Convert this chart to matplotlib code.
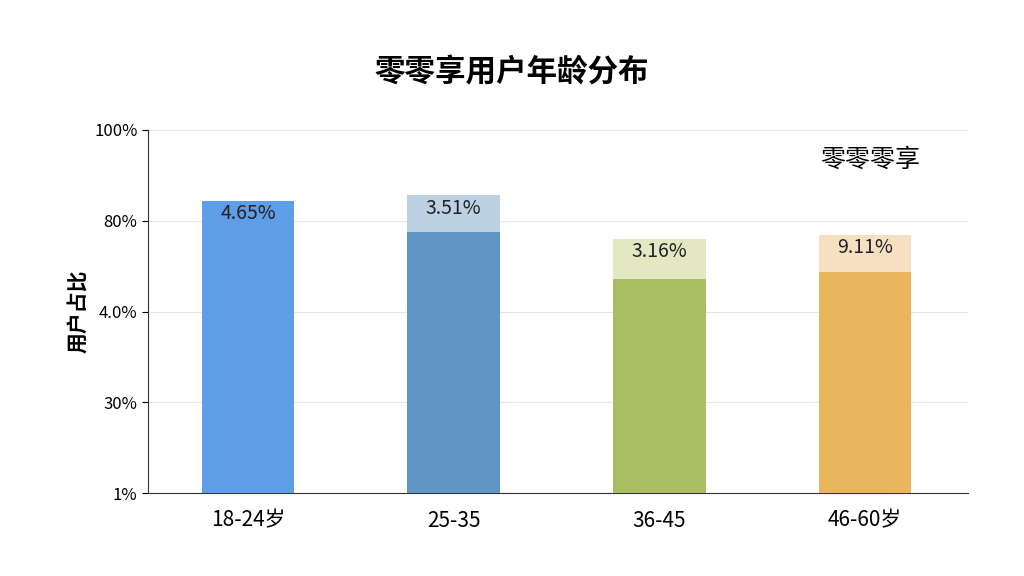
import matplotlib.pyplot as plt

plt.rcParams['font.family'] = ['Noto Sans CJK SC', 'DejaVu Sans']

categories = ['18-24岁', '25-35', '36-45', '46-60岁']
main_values = [80.5, 72, 59, 61]
cap_values = [80.5, 82, 70, 71]
bar_labels = ['4.65%', '3.51%', '3.16%', '9.11%']
main_colors = ['#5f9de6', '#6195c5', '#a9be62', '#e9b65e']
cap_colors = ['#5f9de6', '#bcd2e4', '#e3e8c2', '#f7dfc2']
tick_pos = [0, 25, 50, 75, 100]
tick_labels = ['1%', '30%', '4.0%', '80%', '100%']

fig = plt.figure(figsize=(10.24, 5.76), dpi=100)
ax = fig.add_axes([148/1024, 1-493/576, 820/1024, 363/576])
x = range(len(categories))
ax.bar(x, cap_values, width=0.45, color=cap_colors, zorder=2)
ax.bar(x, main_values, width=0.45, color=main_colors, zorder=3)
for i, lab in enumerate(bar_labels):
    ax.text(i, cap_values[i] - 3.5, lab, ha='center', va='center', fontsize=14, color='#222222', zorder=4)

ax.set_xlim(-0.486, 3.5)
ax.set_ylim(0, 100)
ax.set_yticks(tick_pos)
ax.set_yticklabels(tick_labels, fontsize=12)
ax.set_xticks(list(x))
ax.set_xticklabels(categories, fontsize=15)
ax.tick_params(axis='x', length=0, pad=12)
ax.tick_params(axis='y', length=4)
ax.grid(axis='y', color='#e6e6e6', linewidth=0.8, zorder=0)
for s in ['top', 'right']:
    ax.spines[s].set_visible(False)
ax.spines['left'].set_color('#333333')
ax.spines['bottom'].set_color('#333333')
ax.set_ylabel('用户占比', fontsize=15, fontweight='bold')

fig.text(0.5, 1-72/576, '零零享用户年龄分布', ha='center', va='center', fontsize=22, fontweight='bold')
fig.text(870/1024, 1-160/576, '零零零享', ha='center', va='center', fontsize=18)

fig.savefig('out.png')
